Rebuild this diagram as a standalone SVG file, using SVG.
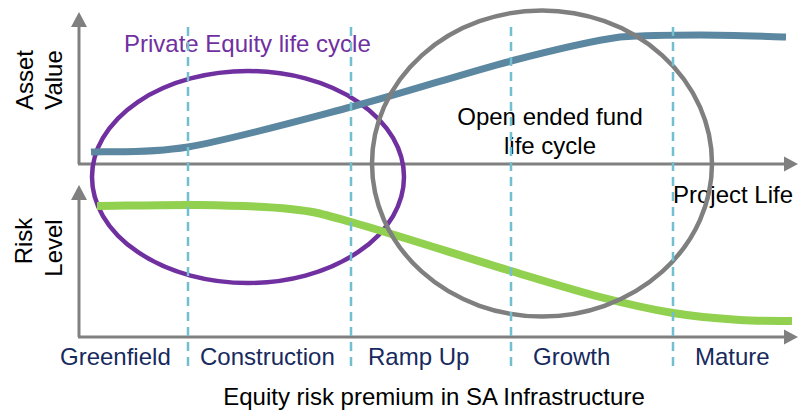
<svg xmlns="http://www.w3.org/2000/svg" width="798" height="412" viewBox="0 0 798 412">
<style>
text{font-family:"Liberation Sans",Arial,sans-serif;font-size:24px}
.ax{stroke:#808080;stroke-width:3;fill:none}
.ah{fill:#808080}
.phase{fill:#172a5e}
.dash{stroke:#72bfcf;stroke-width:2.5;stroke-dasharray:9 6;fill:none}
</style>
<rect width="798" height="412" fill="#fff"/>
<g id="axes">
<line class="ax" x1="79" y1="164" x2="79" y2="24"/>
<polygon class="ah" points="79,12 71,27 87,27"/>
<line class="ax" x1="78" y1="164" x2="788" y2="164"/>
<polygon class="ah" points="798,164 784,156.5 784,171.5"/>
<line class="ax" x1="79" y1="337" x2="79" y2="196"/>
<polygon class="ah" points="79,185 71,200 87,200"/>
<line class="ax" x1="78" y1="337" x2="788" y2="337"/>
<polygon class="ah" points="798,337 784,329.5 784,344.5"/>
</g>
<g id="axis-labels">
<text transform="translate(33,80) rotate(-90)" text-anchor="middle">Asset</text>
<text transform="translate(62,80) rotate(-90)" text-anchor="middle">Value</text>
<text transform="translate(32,241) rotate(-90)" text-anchor="middle">Risk</text>
<text transform="translate(62,248) rotate(-90)" text-anchor="middle">Level</text>
<text x="673" y="203">Project Life</text>
</g>
<g id="private-equity">
<ellipse cx="248" cy="177" rx="156" ry="106" fill="none" stroke="#7030a0" stroke-width="4.5"/>
<text x="124" y="52" fill="#7030a0">Private Equity life cycle</text>
</g>
<g id="connectors">
<path id="asset-value-curve" d="M91,152 C107,151 145,154 188,147 C231,139.5 297,121.3 351,107 C405,92.7 466,72.7 511,61 C556,49.3 588.5,41.3 620,37 C650,35 672,35 700,35 C728,35 772,36.7 786,37" fill="none" stroke="#5b87a0" stroke-width="7"/>
<path id="risk-curve" d="M97,206 C114,206 168,204.5 200,205 C232,205.5 265,206.2 290,209 C315,211.8 314,211.7 351,222 C388,232.3 469.5,258.5 511,271 C552.5,283.5 573,290 600,297 C627,304 649.7,309.2 673,313 C696.3,316.8 720.2,318.7 740,320 C759.8,321.3 783.3,320.8 792,321" fill="none" stroke="#92d050" stroke-width="8"/>
</g>
<g id="open-ended-fund">
<ellipse cx="542" cy="163.5" rx="170" ry="153" fill="none" stroke="#7f7f7f" stroke-width="4.5"/>
<text x="550" y="125" text-anchor="middle">Open ended fund</text>
<text x="550" y="154" text-anchor="middle">life cycle</text>
</g>
<g id="phase-dividers">
<line class="dash" x1="188" y1="27" x2="188" y2="372"/>
<line class="dash" x1="351" y1="27" x2="351" y2="372"/>
<line class="dash" x1="511" y1="27" x2="511" y2="372"/>
<line class="dash" x1="673" y1="27" x2="673" y2="372"/>
</g>
<g id="phases">
<text class="phase" x="60" y="365">Greenfield</text>
<text class="phase" x="200" y="365">Construction</text>
<text class="phase" x="368" y="365">Ramp Up</text>
<text class="phase" x="533" y="365">Growth</text>
<text class="phase" x="695" y="365">Mature</text>
</g>
<g id="title">
<text x="434" y="405" text-anchor="middle">Equity risk premium in SA Infrastructure</text>
</g>
</svg>
